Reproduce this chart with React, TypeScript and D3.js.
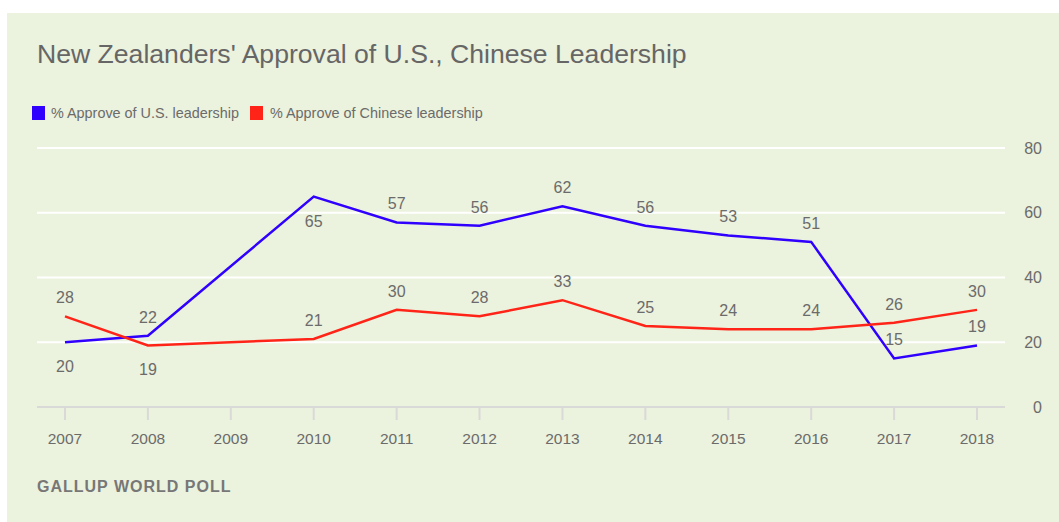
import React from "react";
import * as d3 from "d3";

const years = [2007, 2008, 2009, 2010, 2011, 2012, 2013, 2014, 2015, 2016, 2017, 2018];
const usApproval: (number | null)[] = [20, 22, null, 65, 57, 56, 62, 56, 53, 51, 15, 19];
const chinaApproval: (number | null)[] = [28, 19, null, 21, 30, 28, 33, 25, 24, 24, 26, 30];
const usLabelBelow = [2007, 2010];
const chinaLabelBelow = [2008];
const yTicks = [0, 20, 40, 60, 80];
const seriesNames = ["% Approve of U.S. leadership", "% Approve of Chinese leadership"];
const seriesColors = ["#3000ff", "#ff2417"];

const W = 1059;
const H = 522;
const FONT = "'Liberation Sans', Arial, sans-serif";
const TEXT = "#6b6b6b";

export default function App() {
  const x = d3.scalePoint<number>().domain(years).range([65, 977]);
  const y = d3.scaleLinear().domain([0, 80]).range([407, 148]);
  const line = d3
    .line<{ year: number; v: number }>()
    .x((d) => x(d.year)!)
    .y((d) => y(d.v));

  const series = [
    { name: seriesNames[0], color: seriesColors[0], values: usApproval, below: usLabelBelow },
    { name: seriesNames[1], color: seriesColors[1], values: chinaApproval, below: chinaLabelBelow },
  ];

  return (
    <div style={{ position: "absolute", left: 0, top: 0 }}>
      <svg width={W} height={H} style={{ display: "block", fontFamily: FONT }}>
        <rect x={7} y={13} width={W - 7} height={H - 13} fill="#ebf2dd" />
        <text x={37} y={63} fontSize={26.6} fill="#666">
          New Zealanders' Approval of U.S., Chinese Leadership
        </text>
        {/* legend */}
        <rect x={32} y={106} width={13} height={14} fill={seriesColors[0]} />
        <text x={51} y={118} fontSize={14.4} fill={TEXT}>{seriesNames[0]}</text>
        <rect x={250} y={106} width={13} height={14} fill={seriesColors[1]} />
        <text x={270} y={118} fontSize={14.4} fill={TEXT}>{seriesNames[1]}</text>
        {/* gridlines */}
        {yTicks.map((t) =>
          t === 0 ? null : (
            <line key={t} x1={37} x2={1005} y1={y(t)} y2={y(t)} stroke="#fff" strokeWidth={2} />
          )
        )}
        <line x1={37} x2={1005} y1={y(0)} y2={y(0)} stroke="#d9dad8" strokeWidth={2} />
        {yTicks.map((t) => (
          <text key={t} x={1042} y={y(t) + 5.5} fontSize={16} fill={TEXT} textAnchor="end">
            {t}
          </text>
        ))}
        {years.map((yr) => (
          <g key={yr}>
            <line x1={x(yr)} x2={x(yr)} y1={y(0)} y2={y(0) + 13} stroke="#d9dad8" strokeWidth={2} />
            <text x={x(yr)} y={444} fontSize={15.5} fill={TEXT} textAnchor="middle">
              {yr}
            </text>
          </g>
        ))}
        {series.map((s) => {
          const pts = years
            .map((yr, i) => ({ year: yr, v: s.values[i] }))
            .filter((d) => d.v !== null) as { year: number; v: number }[];
          return (
            <g key={s.name}>
              <path d={line(pts) || ""} fill="none" stroke={s.color} strokeWidth={2.5} />
              {pts.map((d) => (
                <text
                  key={d.year}
                  x={x(d.year)}
                  y={s.below.includes(d.year) ? y(d.v) + 30 : y(d.v) - 13}
                  fontSize={16}
                  fill={TEXT}
                  textAnchor="middle"
                >
                  {d.v}
                </text>
              ))}
            </g>
          );
        })}
        <text x={37} y={492} fontSize={16} fontWeight="bold" fill="#777" letterSpacing={1}>
          GALLUP WORLD POLL
        </text>
      </svg>
    </div>
  );
}
